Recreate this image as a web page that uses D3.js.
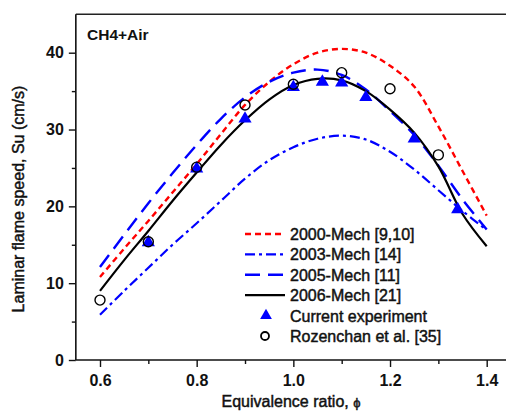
<!DOCTYPE html>
<html>
<head>
<meta charset="utf-8">
<script src="https://cdn.jsdelivr.net/npm/d3@7"></script>
<style>
  html, body { margin: 0; padding: 0; background: #fff; }
  svg { display: block; font-family: "Liberation Sans", Arial, sans-serif; }
</style>
</head>
<body>
<div id="chart"></div>
<script>
/* ---- data ---- */
const phiModel = [0.6, 0.65, 0.7, 0.75, 0.8, 0.85, 0.9, 0.95, 1.0, 1.05, 1.1, 1.15, 1.2, 1.25, 1.3, 1.35, 1.4];
const mech2000 = [10.8, 14.5, 18.1, 21.8, 25.5, 29.4, 33.2, 36.2, 38.5, 40.0, 40.5, 40.0, 38.3, 35.6, 30.4, 24.6, 18.8];
const mech2003 = [5.9, 9.0, 12.0, 15.0, 17.8, 20.7, 23.6, 26.0, 27.7, 28.8, 29.2, 28.7, 27.1, 24.8, 22.1, 19.4, 16.9];
const mech2005 = [12.1, 16.3, 20.4, 24.3, 28.0, 31.4, 34.2, 36.2, 37.4, 37.8, 37.1, 35.2, 32.4, 29.3, 25.3, 20.9, 17.0];
const mech2006 = [9.0, 13.0, 16.8, 20.7, 24.4, 28.0, 31.2, 33.9, 35.8, 36.6, 36.4, 35.0, 32.6, 29.6, 25.2, 19.0, 14.8];

const phiExp = [0.7, 0.8, 0.9, 1.0, 1.06, 1.1, 1.15, 1.25, 1.34];
const suExp = [15.3, 24.9, 31.4, 35.5, 36.2, 36.1, 34.2, 28.8, 19.6];

const phiRoz = [0.6, 0.7, 0.8, 0.9, 1.0, 1.1, 1.2, 1.3];
const suRoz = [7.8, 15.4, 25.1, 33.2, 35.9, 37.4, 35.3, 26.7];

const xTicks = [0.6, 0.8, 1.0, 1.2, 1.4];
const xMinor = [0.7, 0.9, 1.1, 1.3];
const yTicks = [0, 10, 20, 30, 40];
const yMinor = [5, 15, 25, 35];

const legendLabels = ["2000-Mech [9,10]", "2003-Mech [14]", "2005-Mech [11]", "2006-Mech [21]", "Current experiment", "Rozenchan et al. [35]"];

/* ---- layout ---- */
const W = 506, H = 411;
const x = d3.scaleLinear().domain([0.6, 1.4]).range([100, 486.7]);
const y = d3.scaleLinear().domain([0, 40]).range([360, 52.7]);
const x0 = x(0.55), yTop = y(45);

const svg = d3.select("#chart").append("svg")
    .attr("width", W)
    .attr("height", H);

// texto "medio": regular con un trazo fino
const heavy = sel => sel.attr("fill", "#111").attr("stroke", "#111").attr("stroke-width", 0.45);

/* frame: left, bottom, top (right side is cut off in the original) */
svg.append("line").attr("x1", x0).attr("x2", W).attr("y1", yTop).attr("y2", yTop)
    .attr("stroke", "#222").attr("stroke-width", 1.6);

/* axes */
svg.append("g").attr("transform", `translate(0,${y(0)})`)
    .call(d3.axisBottom(x).tickValues(xTicks).tickFormat(d3.format(".1f")).tickSize(7).tickPadding(8));
svg.append("g").attr("transform", `translate(0,${y(0)})`)
    .call(d3.axisBottom(x).tickValues(xMinor).tickFormat("").tickSize(4));

svg.append("g").attr("transform", `translate(${x0},0)`)
    .call(d3.axisLeft(y).tickValues(yTicks).tickSize(7).tickPadding(5));
svg.append("g").attr("transform", `translate(${x0},0)`)
    .call(d3.axisLeft(y).tickValues(yMinor).tickFormat("").tickSize(4));

svg.selectAll(".domain").remove();
svg.selectAll(".tick line").attr("stroke", "#111").attr("stroke-width", 1.4);
svg.selectAll(".tick text")
    .attr("font-family", "Liberation Sans, Arial, sans-serif")
    .attr("font-size", 16).attr("font-weight", "bold").attr("fill", "#111");

svg.append("line").attr("x1", x0).attr("x2", W).attr("y1", y(0)).attr("y2", y(0))
    .attr("stroke", "#111").attr("stroke-width", 1.6);
svg.append("line").attr("x1", x0).attr("x2", x0).attr("y1", yTop).attr("y2", y(0))
    .attr("stroke", "#111").attr("stroke-width", 1.6);

/* axis titles */
const xt = svg.append("text")
    .attr("x", 291).attr("y", 407)
    .attr("text-anchor", "middle")
    .attr("font-size", 16)
    .call(heavy);
xt.append("tspan").text("Equivalence ratio, ");
xt.append("tspan").attr("font-size", 13).text("\u03d5");

svg.append("text")
    .attr("transform", `translate(24,199) rotate(-90)`)
    .attr("text-anchor", "middle")
    .attr("font-size", 16)
    .call(heavy)
    .text("Laminar flame speed, Su (cm/s)");

svg.append("text")
    .attr("x", 87).attr("y", 40)
    .attr("font-size", 15.5).attr("font-weight", "bold").attr("fill", "#111")
    .text("CH4+Air");

/* model curves */
const series = [
    { vals: mech2000, color: "#ff0000", dash: "6,4", width: 2.4 },
    { vals: mech2003, color: "#0000ff", dash: "10,4,3,4", width: 2.2 },
    { vals: mech2005, color: "#0000ff", dash: "15,8", width: 2.4 },
    { vals: mech2006, color: "#000000", dash: null, width: 2.2 }
];

const line = d3.line()
    .x(d => x(d[0]))
    .y(d => y(d[1]))
    .curve(d3.curveCatmullRom.alpha(0.5));

const plot = svg.append("g");

series.forEach(s => {
    plot.append("path")
        .datum(phiModel.map((p, i) => [p, s.vals[i]]))
        .attr("d", line)
        .attr("fill", "none")
        .attr("stroke", s.color)
        .attr("stroke-width", s.width)
        .attr("stroke-dasharray", s.dash);
});

/* symbols */
const tri = d3.symbol().type(d3.symbolTriangle).size(75);

plot.selectAll(".exp")
    .data(phiExp.map((p, i) => [p, suExp[i]]))
    .enter().append("path")
    .attr("class", "exp")
    .attr("d", tri)
    .attr("transform", d => `translate(${x(d[0])},${y(d[1])})`)
    .attr("fill", "#0000ff");

plot.selectAll(".roz")
    .data(phiRoz.map((p, i) => [p, suRoz[i]]))
    .enter().append("circle")
    .attr("class", "roz")
    .attr("cx", d => x(d[0]))
    .attr("cy", d => y(d[1]))
    .attr("r", 5)
    .attr("fill", "none")
    .attr("stroke", "#000")
    .attr("stroke-width", 1.4);

/* legend */
const legend = svg.append("g");
const rowY = i => 234 + i * 20.4;

series.forEach((s, i) => {
    legend.append("line")
        .attr("x1", 245).attr("x2", 285)
        .attr("y1", rowY(i)).attr("y2", rowY(i))
        .attr("stroke", s.color)
        .attr("stroke-width", s.width)
        .attr("stroke-dasharray", s.dash);
});

legend.append("path")
    .attr("d", d3.symbol().type(d3.symbolTriangle).size(60))
    .attr("transform", `translate(266,${rowY(4)})`)
    .attr("fill", "#0000ff");

legend.append("circle")
    .attr("cx", 265).attr("cy", rowY(5)).attr("r", 4)
    .attr("fill", "none").attr("stroke", "#000").attr("stroke-width", 1.8);

legend.selectAll(".lab")
    .data(legendLabels)
    .enter().append("text")
    .attr("class", "lab")
    .attr("x", 290)
    .attr("y", (d, i) => rowY(i) + 6)
    .attr("font-size", 16)
    .call(heavy)
    .text(d => d);
</script>
</body>
</html>
